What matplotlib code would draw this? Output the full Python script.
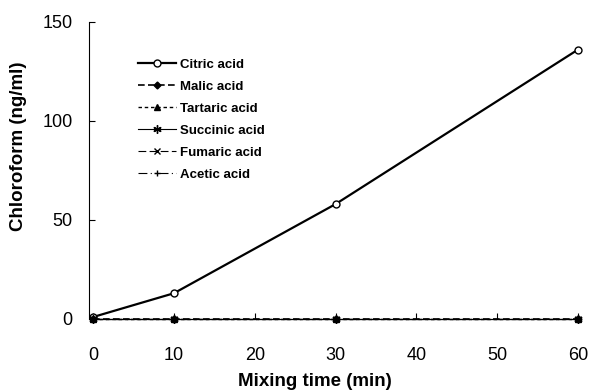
import numpy as np
import matplotlib.pyplot as plt

plt.rcParams['font.family'] = ['Liberation Sans', 'DejaVu Sans']

time = [0, 10, 30, 60]
citric = [1, 13, 58, 136]
malic = [0, 0, 0, 0]
tartaric = [0, 0, 0, 0]
succinic = [0, 0, 0, 0]
fumaric = [0, 0, 0, 0]
acetic = [0, 0, 0, 0]

fig = plt.figure(figsize=(5.98, 3.91), dpi=100)
ax = fig.add_axes([0.149, 0.169, 0.831, 0.775])

ax.plot(time, citric, '-', color='black', lw=1.6, marker='o', ms=5, mfc='white', mew=1, label='Citric acid')
ax.plot(time, malic, color='black', lw=1.2, ls=(0, (4, 2)), marker='D', ms=3.5, label='Malic acid')
ax.plot(time, tartaric, color='black', lw=1.0, ls=(0, (2.5, 2)), marker='^', ms=4.5, label='Tartaric acid')
ax.plot(time, succinic, '-', color='black', lw=0.8, marker=(6, 2, 0), ms=6, label='Succinic acid')
ax.plot(time, fumaric, color='black', lw=0.8, ls=(0, (7, 3)), marker='x', ms=4, label='Fumaric acid')
ax.plot(time, acetic, color='black', lw=0.8, ls=(0, (8, 3, 1, 3, 1, 3)), marker='+', ms=5, label='Acetic acid')

ax.set_xlim(-0.5, 61)
ax.set_ylim(-3, 150)
ax.set_xticks([0, 10, 20, 30, 40, 50, 60])
ax.set_yticks([0, 50, 100, 150])
ax.tick_params(direction='in', labelsize=13, length=4, width=0.8)
ax.tick_params(axis='y', pad=12)
ax.tick_params(axis='x', pad=20)

ax.spines['top'].set_visible(False)
ax.spines['right'].set_visible(False)
ax.spines['bottom'].set_position(('data', 0))
ax.spines['left'].set_bounds(0, 150)
ax.spines['bottom'].set_bounds(0, 60)

ax.set_xlabel('Mixing time (min)', fontsize=13.5, fontweight='bold')
ax.set_ylabel('Chloroform (ng/ml)', fontsize=13.5, fontweight='bold')
ax.xaxis.set_label_coords(0.455, -0.158)
ax.yaxis.set_label_coords(-0.125, 0.59)

ax.legend(loc='upper left', bbox_to_anchor=(0.085, 0.9), frameon=False,
          prop={'size': 9.5, 'weight': 'bold'},
          handlelength=2.9, labelspacing=0.74, handletextpad=0.25, borderpad=0)

fig.savefig('out.png', dpi=100)
